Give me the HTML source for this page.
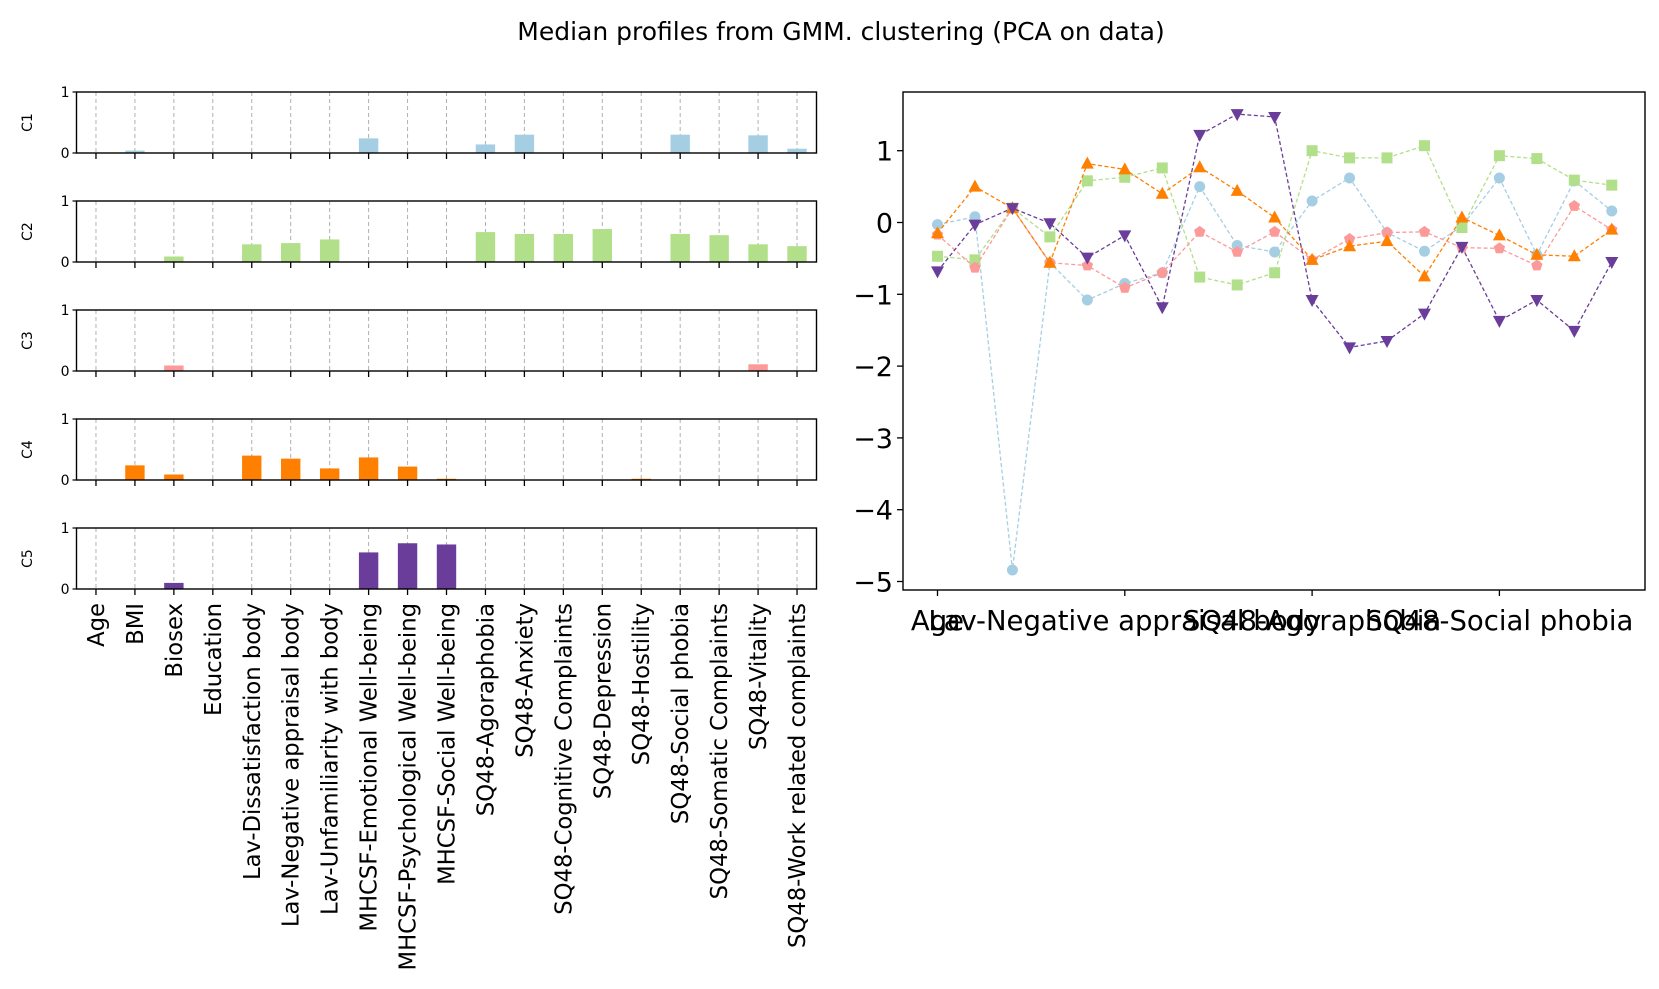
<!DOCTYPE html>
<html><head><meta charset="utf-8"><style>
body{margin:0;background:#fff;}
svg{display:block;font-family:"DejaVu Sans","Liberation Sans",sans-serif;}
</style></head><body>
<svg id="fig" width="1659" height="989" viewBox="0 0 1659 989">
<text x="841" y="40" font-size="25" text-anchor="middle">Median profiles from GMM. clustering (PCA on data)</text>
<g id="left"></g>
<g id="right"></g>
</svg>
<script>
const categories = ["Age","BMI","Biosex","Education","Lav-Dissatisfaction body","Lav-Negative appraisal body","Lav-Unfamiliarity with body","MHCSF-Emotional Well-being","MHCSF-Psychological Well-being","MHCSF-Social Well-being","SQ48-Agoraphobia","SQ48-Anxiety","SQ48-Cognitive Complaints","SQ48-Depression","SQ48-Hostility","SQ48-Social phobia","SQ48-Somatic Complaints","SQ48-Vitality","SQ48-Work related complaints"];
const clusterNames = ["C1","C2","C3","C4","C5"];
const colors = ["#a6cee3","#b2df8a","#fb9a99","#ff7f00","#6a3d9a"];
const barsC1 = [0,0.04,0,0,0,0,0,0.24,0,0,0.14,0.30,0,0,0,0.30,0,0.29,0.07];
const barsC2 = [0,0,0.09,0,0.29,0.31,0.37,0,0,0,0.49,0.46,0.46,0.54,0,0.46,0.44,0.29,0.26];
const barsC3 = [0,0,0.09,0,0,0,0,0,0,0,0,0,0,0,0,0,0,0.11,0];
const barsC4 = [0,0.24,0.09,0,0.40,0.35,0.19,0.37,0.22,0.02,0,0,0,0,0.02,0,0,0,0];
const barsC5 = [0,0,0.10,0,0,0,0,0.60,0.75,0.73,0,0,0,0,0,0,0,0,0];
const lineC1 = [-0.03,0.08,-4.84,-0.56,-1.08,-0.85,-0.70,0.50,-0.32,-0.41,0.30,0.62,-0.14,-0.40,-0.05,0.62,-0.45,0.58,0.16];
const lineC2 = [-0.47,-0.52,0.20,-0.20,0.58,0.63,0.76,-0.76,-0.87,-0.70,1.00,0.90,0.90,1.07,-0.07,0.93,0.89,0.59,0.52];
const lineC3 = [-0.17,-0.63,0.20,-0.56,-0.60,-0.91,-0.70,-0.13,-0.41,-0.13,-0.52,-0.23,-0.14,-0.13,-0.35,-0.36,-0.60,0.23,-0.10];
const lineC4 = [-0.15,0.50,0.20,-0.56,0.82,0.74,0.40,0.77,0.44,0.07,-0.52,-0.33,-0.26,-0.75,0.07,-0.18,-0.45,-0.47,-0.10];
const lineC5 = [-0.68,-0.03,0.20,-0.01,-0.49,-0.18,-1.18,1.22,1.51,1.47,-1.08,-1.74,-1.65,-1.27,-0.34,-1.37,-1.08,-1.51,-0.55];
const rightYTicks = [1,0,-1,-2,-3,-4,-5];
const rightXTickIdx = [0,5,10,15];

const NS="http://www.w3.org/2000/svg";
function mk(p,tag,at){const e=document.createElementNS(NS,tag);for(const k in at)e.setAttribute(k,at[k]);p.appendChild(e);return e;}
const barsAll=[barsC1,barsC2,barsC3,barsC4,barsC5];
const linesAll=[lineC1,lineC2,lineC3,lineC4,lineC5];

const L=document.getElementById('left');
const lx0=76.5,lx1=816.5,n=categories.length;
const bx=i=>lx0+(i+0.5)*(lx1-lx0)/n;
const panelTop=[92,201,310,419,528],ph=61;
for(let c=0;c<5;c++){
  const g=mk(L,'g',{});
  
  
  const t=panelTop[c],b=t+ph;
  const by=v=>b-v*ph;
  for(let i=0;i<n;i++){
    const gl=mk(g,'line',{x1:bx(i),x2:bx(i),y1:t,y2:b,stroke:'#b0b0b0','stroke-width':1,'stroke-dasharray':'4,3'});
    
    
  }
  barsAll[c].forEach((v,i)=>{
    if(v<=0)return;
    const r=mk(g,'rect',{x:bx(i)-9.7,y:by(v),width:19.4,height:b-by(v),fill:colors[c]});
    
    
  });
  const fr=mk(g,'rect',{x:lx0,y:t,width:lx1-lx0,height:ph,fill:'none',stroke:'#000','stroke-width':1.4});
  
  
  for(let i=0;i<n;i++){
    const tk=mk(g,'line',{x1:bx(i),x2:bx(i),y1:b,y2:b+6,stroke:'#000','stroke-width':1.3});
    
    
  }
  [[1,t],[0,b]].forEach(([v,y])=>{
    mk(g,'line',{x1:lx0-4,x2:lx0,y1:y,y2:y,stroke:'#000','stroke-width':1.2});
    const tx=mk(g,'text',{x:lx0-7,y:y+5,'font-size':14,'text-anchor':'end'});
    tx.textContent=v;
    
    
  });
  const yl=mk(g,'text',{x:0,y:0,'font-size':14,'text-anchor':'middle',transform:`translate(32,${t+ph/2}) rotate(-90)`});
  yl.textContent=clusterNames[c];
  
  
}
const lastB=panelTop[4]+ph;
categories.forEach((s,i)=>{
  const tx=mk(L,'text',{x:0,y:0,'font-size':22.7,'text-anchor':'end',transform:`translate(${bx(i)+8},${lastB+14}) rotate(-90)`});
  tx.textContent=s;
  
  
});

const R=document.getElementById('right');
const rx0=903,rx1=1645,ry0=92,ry1=590;
const xs=i=>937.5+i*37.46;
const ys=v=>222.5-v*71.8;
rightYTicks.forEach(v=>{
  mk(R,'line',{x1:rx0-6,x2:rx0,y1:ys(v),y2:ys(v),stroke:'#000','stroke-width':1.3});
  const tx=mk(R,'text',{x:rx0-10,y:ys(v)+10,'font-size':27,'text-anchor':'end'});
  tx.textContent=v<0?'\u2212'+(-v):String(v);
  
  
});
rightXTickIdx.forEach(i=>{
  mk(R,'line',{x1:xs(i),x2:xs(i),y1:ry1,y2:ry1+6,stroke:'#000','stroke-width':1.3});
  const tx=mk(R,'text',{x:xs(i),y:ry1+40,'font-size':27.5,'text-anchor':'middle'});
  tx.textContent=categories[i];
  
  
});
function marker(g,shape,x,y,col){
  let e;
  if(shape==='circle')e=mk(g,'circle',{cx:x,cy:y,r:5.5,fill:col});
  else if(shape==='square')e=mk(g,'rect',{x:x-5.5,y:y-5.5,width:11,height:11,fill:col});
  else if(shape==='up')e=mk(g,'polygon',{points:`${x},${y-7} ${x-6.5},${y+5} ${x+6.5},${y+5}`,fill:col});
  else if(shape==='down')e=mk(g,'polygon',{points:`${x},${y+7} ${x-6.5},${y-5} ${x+6.5},${y-5}`,fill:col});
  else{let p=[];for(let k=0;k<5;k++){const a=-Math.PI/2+k*2*Math.PI/5;p.push((x+6*Math.cos(a))+','+(y+6*Math.sin(a)));}e=mk(g,'polygon',{points:p.join(' '),fill:col});}
  
  
}
const shapes=['circle','square','pent','up','down'];
[0,1,2,3,4].forEach(c=>{
  const g=mk(R,'g',{});
  
  
  const d=linesAll[c].map((v,i)=>(i?'L':'M')+xs(i)+','+ys(v)).join(' ');
  const p=mk(g,'path',{d:d,fill:'none',stroke:colors[c],'stroke-width':1.3,'stroke-dasharray':'4,2.5'});
  
  
  linesAll[c].forEach((v,i)=>marker(g,shapes[c],xs(i),ys(v),colors[c]));
});
const rf=mk(R,'rect',{x:rx0,y:ry0,width:rx1-rx0,height:ry1-ry0,fill:'none',stroke:'#000','stroke-width':1.4});


</script>
</body></html>
